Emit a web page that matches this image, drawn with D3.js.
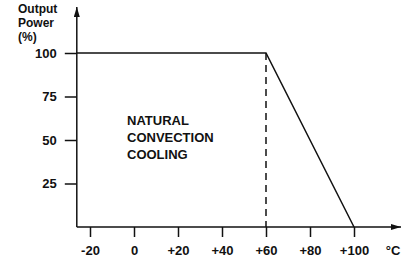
<!DOCTYPE html>
<html>
<head>
<meta charset="utf-8">
<script src="https://cdn.jsdelivr.net/npm/d3@7"></script>
<style>
  body { margin: 0; background: #fff; }
  svg text { font-family: "Liberation Sans", Arial, sans-serif; font-weight: bold; fill: #111; }
</style>
</head>
<body>
<div id="chart"></div>
<script>
// Data
var curveTemp = [-26, 60, 100];
var curvePower = [100, 100, 0];
var xTicks = [-20, 0, 20, 40, 60, 80, 100];
var yTicks = [25, 50, 75, 100];
var kneeTemp = 60;
var areaLabel = ["NATURAL", "CONVECTION", "COOLING"];
var yTitle = ["Output", "Power", "(%)"];

var w = 403;
var h = 261;

var xScale = d3.scaleLinear()
    .domain([-20, 100])
    .range([90, 354]);

var yScale = d3.scaleLinear()
    .domain([0, 100])
    .range([227, 53]);

var x0 = xScale(-26); // where the y axis sits
var y0 = yScale(0);

var svg = d3.select("#chart")
    .append("svg")
    .attr("width", w)
    .attr("height", h);

// Arrow head
svg.append("defs").append("marker")
    .attr("id", "arrow")
    .attr("viewBox", "0 0 10 6")
    .attr("refX", 10)
    .attr("refY", 3)
    .attr("markerWidth", 10)
    .attr("markerHeight", 6)
    .attr("markerUnits", "userSpaceOnUse")
    .attr("orient", "auto")
    .append("path")
    .attr("d", "M0,0 L10,3 L0,6 Z")
    .attr("fill", "#111");

// x axis
var xAxis = svg.append("g")
    .attr("transform", "translate(0," + y0 + ")")
    .call(d3.axisBottom(xScale)
        .tickValues(xTicks)
        .tickSize(10)
        .tickSizeOuter(0)
        .tickFormat(function(d) { return d > 0 ? "+" + d : d; }));
xAxis.select(".domain").remove();
xAxis.selectAll("line").attr("stroke", "#111").attr("stroke-width", 1.5);
xAxis.selectAll("text")
    .attr("y", 23)
    .attr("dy", "0.35em")
    .attr("font-size", 13)
    .attr("font-family", null)
    .attr("fill", "#111");

// y axis
var yAxis = svg.append("g")
    .attr("transform", "translate(" + x0 + ",0)")
    .call(d3.axisLeft(yScale)
        .tickValues(yTicks)
        .tickSize(12)
        .tickSizeOuter(0)
        .tickPadding(8));
yAxis.select(".domain").remove();
yAxis.selectAll("line").attr("stroke", "#111").attr("stroke-width", 1.5);
yAxis.selectAll("text")
    .attr("font-size", 13)
    .attr("font-family", null)
    .attr("fill", "#111");

// axis lines with arrows
svg.append("line")
    .attr("x1", x0).attr("y1", y0)
    .attr("x2", 401).attr("y2", y0)
    .attr("stroke", "#111").attr("stroke-width", 1.5)
    .attr("marker-end", "url(#arrow)");

svg.append("line")
    .attr("x1", x0).attr("y1", y0)
    .attr("x2", x0).attr("y2", 7)
    .attr("stroke", "#111").attr("stroke-width", 1.5)
    .attr("marker-end", "url(#arrow)");

// dashed line at the knee
svg.append("line")
    .attr("x1", xScale(kneeTemp)).attr("y1", yScale(100))
    .attr("x2", xScale(kneeTemp)).attr("y2", y0)
    .attr("stroke", "#111").attr("stroke-width", 1.5)
    .attr("stroke-dasharray", "7,5");

// derating curve
var line = d3.line()
    .x(function(d, i) { return xScale(curveTemp[i]); })
    .y(function(d) { return yScale(d); });

svg.append("path")
    .datum(curvePower)
    .attr("d", line)
    .attr("fill", "none")
    .attr("stroke", "#111")
    .attr("stroke-width", 1.5);

// y title
svg.append("g").selectAll("text")
    .data(yTitle)
    .enter()
    .append("text")
    .attr("x", 18)
    .attr("y", function(d, i) { return 13 + i * 14; })
    .attr("font-size", 12)
    .text(function(d) { return d; });

// unit label
svg.append("text")
    .attr("x", 393)
    .attr("y", y0 + 23)
    .attr("dy", "0.35em")
    .attr("text-anchor", "middle")
    .attr("font-size", 13)
    .text("°C");

// region label
svg.append("g").selectAll("text")
    .data(areaLabel)
    .enter()
    .append("text")
    .attr("x", 127)
    .attr("y", function(d, i) { return 125 + i * 17; })
    .attr("font-size", 13)
    .text(function(d) { return d; });
</script>
</body>
</html>
